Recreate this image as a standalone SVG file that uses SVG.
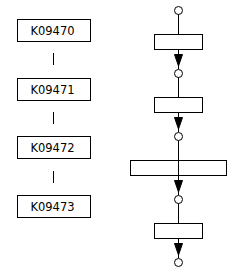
<svg xmlns="http://www.w3.org/2000/svg" width="232" height="272" viewBox="0 0 232 272">
<style>
.box{fill:#fff;stroke:#000;stroke-width:1}
.lbl{font-family:"DejaVu Sans",sans-serif;font-size:11.5px;fill:#000;text-anchor:middle}
.ln{stroke:#000;stroke-width:1;fill:none}
.pl{fill:#fff;stroke:#000;stroke-width:1}
.ah{fill:#000;stroke:#000;stroke-width:1}
</style>
<g id="connectors">
<line class="ln" x1="53.5" y1="53" x2="53.5" y2="65"/>
<line class="ln" x1="53.5" y1="112" x2="53.5" y2="124"/>
<line class="ln" x1="53.5" y1="171" x2="53.5" y2="183"/>
<line class="ln" x1="178.5" y1="14" x2="178.5" y2="34"/>
<line class="ln" x1="178.5" y1="49" x2="178.5" y2="69"/>
<polygon class="ah" points="174.5,54.5 182.5,54.5 178.5,66"/>
<line class="ln" x1="178.5" y1="77" x2="178.5" y2="97"/>
<line class="ln" x1="178.5" y1="112" x2="178.5" y2="132"/>
<polygon class="ah" points="174.5,117.5 182.5,117.5 178.5,129"/>
<line class="ln" x1="178.5" y1="140" x2="178.5" y2="195"/>
<polygon class="ah" points="174.5,180.5 182.5,180.5 178.5,192"/>
<line class="ln" x1="178.5" y1="203" x2="178.5" y2="258"/>
<polygon class="ah" points="174.5,243.5 182.5,243.5 178.5,255"/>
</g>
<g id="K09470"><rect class="box" x="17.5" y="19.5" width="73" height="22"/><text class="lbl" x="52.5" y="34.5">K09470</text></g>
<g id="K09471"><rect class="box" x="17.5" y="78.5" width="73" height="22"/><text class="lbl" x="52.5" y="93.5">K09471</text></g>
<g id="K09472"><rect class="box" x="17.5" y="136.5" width="73" height="22"/><text class="lbl" x="52.5" y="151.5">K09472</text></g>
<g id="K09473"><rect class="box" x="17.5" y="195.5" width="73" height="22"/><text class="lbl" x="52.5" y="210.5">K09473</text></g>
<g id="c1"><circle class="pl" cx="178.5" cy="10.5" r="4"/></g>
<g id="r1"><rect class="box" x="154.5" y="34.5" width="48" height="15"/></g>
<g id="c2"><circle class="pl" cx="178.5" cy="73.5" r="4"/></g>
<g id="r2"><rect class="box" x="154.5" y="97.5" width="48" height="15"/></g>
<g id="c3"><circle class="pl" cx="178.5" cy="136.5" r="4"/></g>
<g id="r3"><rect class="box" x="130.5" y="160.5" width="96" height="15" style="fill:none"/></g>
<g id="c4"><circle class="pl" cx="178.5" cy="199.5" r="4"/></g>
<g id="r4"><rect class="box" x="154.5" y="223.5" width="48" height="15"/></g>
<g id="c5"><circle class="pl" cx="178.5" cy="262.5" r="4"/></g>
</svg>
